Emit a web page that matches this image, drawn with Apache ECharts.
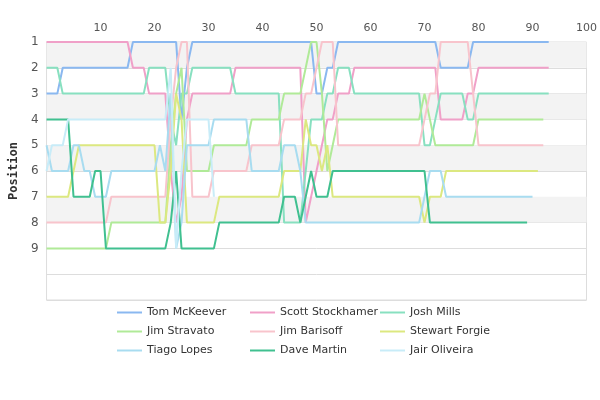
<!DOCTYPE html>
<html>
<head>
<meta charset="utf-8">
<script src="https://cdn.jsdelivr.net/npm/echarts@6/dist/echarts.min.js"></script>
<style>html,body{margin:0;padding:0;background:#fff}#chart{width:600px;height:400px}</style>
</head>
<body>
<div id="chart"></div>
<script>
// positions per lap, run-length: [position, number of laps], starting lap 0
const drivers = ['Tom McKeever', 'Scott Stockhamer', 'Josh Mills', 'Jim Stravato', 'Jim Barisoff',
  'Stewart Forgie', 'Tiago Lopes', 'Dave Martin', 'Jair Oliveira'];
const colors = ['#8ab8f0', '#f0a0c8', '#88e0c0', '#b0ea98', '#f8c4cc', '#dce880', '#a8dcf0', '#40c090', '#c8ecf8'];

const tomRuns = [[3,3],[2,13],[1,9],[4,1],[2,1],[1,23],[3,2],[2,2],[1,19],[2,6],[1,15]];
const scottRuns = [[1,16],[2,3],[3,4],[6,1],[8,1],[7,1],[4,1],[3,8],[2,13],[8,1],[7,1],[6,1],[5,1],[4,2],[3,3],[2,16],[4,5],[3,2],[2,14]];
const joshRuns = [[2,3],[3,16],[2,4],[4,1],[5,1],[3,2],[2,8],[3,9],[8,4],[6,1],[4,3],[3,2],[2,3],[3,13],[5,2],[4,1],[3,5],[4,2],[3,14]];
const stravatoRuns = [[9,12],[8,11],[5,1],[3,1],[2,1],[6,5],[5,7],[4,6],[3,4],[2,1],[1,2],[3,1],[6,1],[5,1],[4,16],[3,1],[4,1],[5,8],[4,13]];
const barisoffRuns = [[8,12],[7,11],[4,1],[2,1],[1,2],[7,4],[6,7],[5,6],[4,4],[3,2],[2,1],[1,3],[5,16],[4,1],[3,2],[1,6],[3,1],[5,13]];
const forgieRuns = [[7,5],[6,1],[5,15],[8,2],[6,1],[3,1],[4,1],[8,6],[7,12],[6,4],[4,1],[5,2],[6,1],[5,1],[7,17],[8,1],[7,3],[6,18]];
const tiagoRuns = [[5,1],[6,4],[5,2],[6,2],[7,3],[6,9],[5,1],[6,1],[3,1],[9,1],[8,1],[5,5],[4,7],[6,6],[5,3],[6,1],[8,22],[7,1],[6,3],[7,17]];
const daveRuns = [[4,5],[7,4],[6,2],[9,12],[8,1],[6,1],[9,7],[8,12],[7,3],[8,1],[7,1],[6,1],[7,3],[6,18],[8,19]];
const jairRuns = [[6,1],[5,3],[4,19],[2,1],[9,1],[6,1],[4,5],[7,1]];
const allRuns = [tomRuns, scottRuns, joshRuns, stravatoRuns, barisoffRuns, forgieRuns, tiagoRuns, daveRuns, jairRuns];

const lapTicks = [10, 20, 30, 40, 50, 60, 70, 80, 90, 100];
const positionTicks = [1, 2, 3, 4, 5, 6, 7, 8, 9];

function expand(runs) {
  const out = [];
  runs.forEach(([p, n]) => { for (let i = 0; i < n; i++) out.push([out.length, p]); });
  return out;
}

const series = drivers.map((name, i) => ({
  name: name,
  type: 'line',
  data: expand(allRuns[i]),
  showSymbol: false,
  symbol: 'rect',
  lineStyle: { width: 2, color: colors[i] },
  itemStyle: { color: colors[i] },
  z: 3
}));
series[0].markArea = {
  silent: true,
  itemStyle: { color: '#f3f3f3' },
  data: [[{ yAxis: 1 }, { yAxis: 2 }], [{ yAxis: 3 }, { yAxis: 4 }], [{ yAxis: 5 }, { yAxis: 6 }], [{ yAxis: 7 }, { yAxis: 8 }]]
};

function legendCol(left, names) {
  return {
    orient: 'vertical', left: left, top: 302, itemGap: 8,
    itemWidth: 25, itemHeight: 2, icon: 'rect',
    textStyle: { fontFamily: 'DejaVu Sans', fontSize: 11, color: '#333' },
    data: names
  };
}

const chart = echarts.init(document.getElementById('chart'));
chart.setOption({
  animation: false,
  color: colors,
  grid: { left: 40, right: 10, top: 42, bottom: 100, show: true, borderColor: '#ddd' },
  legend: [
    legendCol(112, [drivers[0], drivers[3], drivers[6]]),
    legendCol(245, [drivers[1], drivers[4], drivers[7]]),
    legendCol(375, [drivers[2], drivers[5], drivers[8]])
  ],
  xAxis: {
    type: 'value', position: 'top', min: 0, max: 100, interval: 10,
    axisLine: { show: false }, axisTick: { show: false }, splitLine: { show: false },
    axisLabel: {
      color: '#555', fontFamily: 'DejaVu Sans', fontSize: 11,
      formatter: v => lapTicks.includes(v) ? String(v) : ''
    }
  },
  yAxis: {
    type: 'value', inverse: true, min: 1, max: 11, interval: 1,
    name: 'Position', nameLocation: 'middle', nameGap: 26,
    nameTextStyle: { fontFamily: 'DejaVu Sans Mono', fontWeight: 'bold', fontSize: 12, color: '#333' },
    axisLine: { show: false }, axisTick: { show: false },
    splitLine: { lineStyle: { color: '#ddd' } },
    axisLabel: {
      color: '#555', fontFamily: 'DejaVu Sans', fontSize: 12,
      formatter: v => positionTicks.includes(v) ? String(v) : ''
    }
  },
  series: series
});
</script>
</body>
</html>
